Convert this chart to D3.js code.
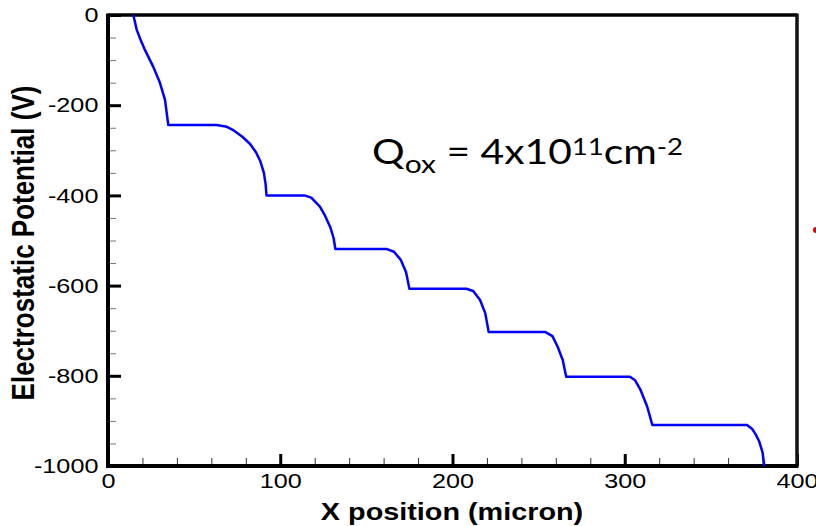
<!DOCTYPE html>
<html>
<head>
<meta charset="utf-8">
<script src="https://cdn.jsdelivr.net/npm/d3@7"></script>
<style>
  body { margin: 0; background: #fff; }
  svg { display: block; }
</style>
</head>
<body>
<div id="chart"></div>
<script>
// position along the device (micron)
const xPosition = [14.7, 16.7, 18.6, 21.5, 26.3, 30.2, 33.1, 35,
  63, 69, 73, 78, 82.5, 86, 88.5, 90.5, 91.5, 92,
  114, 118, 123, 126, 129, 131, 132,
  162, 166, 170, 173, 175,
  208, 212, 216, 219, 221,
  254, 258, 261, 264, 266,
  303, 306, 309, 313, 316,
  371, 374, 376, 378, 380, 381];
// electrostatic potential (V)
const potential = [0, -33, -52, -78, -115, -151, -188, -244,
  -244, -248, -256, -270, -286, -305, -325, -350, -375, -400,
  -400, -405, -425, -445, -470, -495, -519,
  -519, -525, -543, -570, -607,
  -607, -612, -632, -661, -703,
  -703, -712, -735, -765, -802,
  -802, -810, -830, -868, -909,
  -909, -918, -930, -945, -970, -1000];

const xTicks = [0, 100, 200, 300, 400];
const yTicks = [0, -200, -400, -600, -800, -1000];

const data = xPosition.map((x, i) => ({ x: x, v: potential[i] }));

const W = 816, H = 526;
const margin = { top: 15, right: 19, bottom: 60, left: 108 };
const width = W - margin.left - margin.right;
const height = H - margin.top - margin.bottom;
const stretch = "scale(1.2,1)"; // the source picture is widened a little

const svg = d3.select("#chart").append("svg")
  .attr("width", W)
  .attr("height", H);

const g = svg.append("g")
  .attr("transform", `translate(${margin.left},${margin.top})`);

const x = d3.scaleLinear().domain([0, 400]).range([0, width]);
const y = d3.scaleLinear().domain([-1000, 0]).range([height, 0]);

// minor ticks
g.append("g")
  .attr("transform", `translate(0,${height})`)
  .call(d3.axisTop(x).tickValues(d3.range(0, 401, 20)).tickSize(8).tickFormat(""))
  .call(a => a.select(".domain").remove())
  .call(a => a.selectAll("line").attr("stroke", "#333").attr("stroke-width", 1));

g.append("g")
  .call(d3.axisRight(y).tickValues(d3.range(-1000, 1, 50)).tickSize(8).tickFormat(""))
  .call(a => a.select(".domain").remove())
  .call(a => a.selectAll("line").attr("stroke", "#777").attr("stroke-width", 1));

// major ticks + labels
const xAxis = g.append("g")
  .attr("transform", `translate(0,${height})`)
  .call(d3.axisBottom(x).tickValues(xTicks).tickSize(0).tickPadding(7).tickFormat(d => String(d)));
xAxis.select(".domain").remove();
xAxis.selectAll("text")
  .attr("transform", stretch)
  .attr("font-family", "Liberation Sans, Arial, sans-serif")
  .attr("font-size", 21)
  .attr("fill", "#000");

g.append("g")
  .attr("transform", `translate(0,${height})`)
  .call(d3.axisTop(x).tickValues(xTicks).tickSize(12).tickFormat(""))
  .call(a => a.select(".domain").remove())
  .call(a => a.selectAll("line").attr("stroke", "#000").attr("stroke-width", 3));

const yAxis = g.append("g")
  .call(d3.axisLeft(y).tickValues(yTicks).tickSize(0).tickPadding(8).tickFormat(d => String(d)));
yAxis.select(".domain").remove();
yAxis.selectAll("text")
  .attr("transform", stretch)
  .attr("font-family", "Liberation Sans, Arial, sans-serif")
  .attr("font-size", 21)
  .attr("fill", "#000");

g.append("g")
  .call(d3.axisRight(y).tickValues(yTicks).tickSize(13).tickFormat(""))
  .call(a => a.select(".domain").remove())
  .call(a => a.selectAll("line").attr("stroke", "#000").attr("stroke-width", 3));

// frame
g.append("line").attr("x1", 0).attr("x2", width).attr("y1", 0).attr("y2", 0)
  .attr("stroke", "#000").attr("stroke-width", 3.5);
g.append("line").attr("x1", width).attr("x2", width).attr("y1", -1.5).attr("y2", height)
  .attr("stroke", "#111").attr("stroke-width", 3.5);
g.append("line").attr("x1", 0).attr("x2", 0).attr("y1", -1.5).attr("y2", height + 2)
  .attr("stroke", "#000").attr("stroke-width", 4);
g.append("line").attr("x1", -2).attr("x2", width + 1.5).attr("y1", height).attr("y2", height)
  .attr("stroke", "#000").attr("stroke-width", 4);

// curve
const line = d3.line()
  .x(d => x(d.x))
  .y(d => y(d.v));

g.append("path")
  .datum(data)
  .attr("fill", "none")
  .attr("stroke", "#0000ff")
  .attr("stroke-width", 2.5)
  .attr("stroke-linejoin", "round")
  .attr("d", line);

// axis titles
svg.append("text")
  .attr("transform", `translate(452,520) ${stretch}`)
  .attr("text-anchor", "middle")
  .attr("font-family", "Liberation Sans, Arial, sans-serif")
  .attr("font-weight", "bold")
  .attr("font-size", 24)
  .text("X position (micron)");

svg.append("text")
  .attr("transform", `translate(34,243) ${stretch} rotate(-90)`)
  .attr("text-anchor", "middle")
  .attr("font-family", "Liberation Sans, Arial, sans-serif")
  .attr("font-weight", "bold")
  .attr("font-size", 26)
  .text("Electrostatic Potential (V)");

// annotation
const note = svg.append("text")
  .attr("transform", `translate(372,164) ${stretch}`)
  .attr("font-family", "Lato, 'Open Sans', sans-serif")
  .attr("font-size", 34)
  .attr("fill", "#000");
note.append("tspan").text("Q");
note.append("tspan").attr("font-size", 25).attr("dy", 9).text("ox");
note.append("tspan").attr("dy", -9).text(" = 4x10");
note.append("tspan").attr("font-size", 23).attr("dy", -9).text("11");
note.append("tspan").attr("dy", 9).text("cm");
note.append("tspan").attr("font-size", 23).attr("dy", -9).text("-2");

// stray red mark at the right edge
svg.append("circle")
  .attr("cx", 816)
  .attr("cy", 230)
  .attr("r", 3)
  .attr("fill", "#e00000");
</script>
</body>
</html>
